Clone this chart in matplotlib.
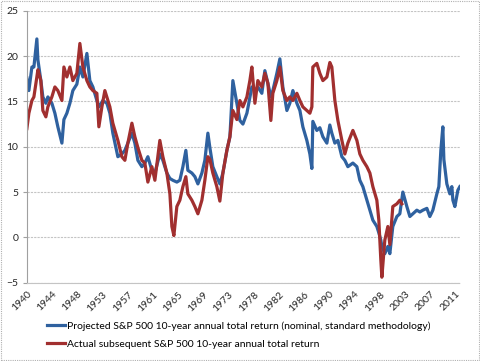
import numpy as np
import matplotlib
matplotlib.use("Agg")
import matplotlib.pyplot as plt
from matplotlib.patches import Rectangle

# projected 10-year return (blue)
proj_years = [1940.50, 1940.83, 1941.33, 1941.66, 1942.15, 1942.32, 1942.81, 1943.14, 1943.64, 1943.97,
              1944.63, 1945.13, 1945.62, 1946.29, 1946.62, 1947.11, 1947.61, 1948.10, 1948.76, 1949.26,
              1949.76, 1950.42, 1950.91, 1951.41, 1952.07, 1952.40, 1953.06, 1953.72, 1954.22, 1954.71,
              1955.54, 1956.20, 1956.70, 1957.19, 1957.86, 1958.35, 1958.85, 1959.51, 1960.00, 1960.50,
              1961.16, 1961.66, 1962.48, 1962.98, 1963.64, 1964.14, 1964.63, 1965.29, 1965.79, 1966.29,
              1966.78, 1967.11, 1967.77, 1968.27, 1968.77, 1969.43, 1969.92, 1970.42, 1970.75, 1971.24,
              1971.90, 1972.40, 1972.90, 1973.56, 1974.06, 1974.55, 1975.21, 1975.71, 1976.21, 1976.87,
              1977.69, 1978.19, 1978.68, 1979.34, 1979.84, 1980.34, 1980.83, 1981.16, 1981.82, 1982.32,
              1982.81, 1983.48, 1983.97, 1984.47, 1985.13, 1985.63, 1986.12, 1986.78, 1987.28, 1987.61,
              1987.77, 1988.43, 1988.93, 1989.43, 1990.09, 1990.58, 1990.91, 1991.41, 1991.91, 1992.57,
              1993.06, 1993.56, 1994.39, 1995.05, 1995.54, 1996.04, 1996.70, 1997.20, 1997.69, 1998.35,
              1998.68, 1999.01, 1999.18, 1999.67, 2000.17, 2000.50, 2000.99, 2001.66, 2002.15, 2002.65,
              2003.31, 2003.81, 2004.30, 2004.96, 2005.46, 2005.96, 2006.62, 2007.11, 2007.61, 2008.27,
              2008.60, 2008.93, 2009.26, 2009.43, 2009.92, 2010.42, 2010.75, 2010.92, 2011.25, 2011.74,
              2012.07]
proj_values = [17.6, 16.2, 18.8, 18.8, 21.9, 19.6, 17.3, 15.5, 14.8, 15.5,
               14.8, 13.7, 12.2, 10.4, 13.0, 13.7, 14.8, 16.2, 16.9, 18.8,
               17.7, 20.3, 17.3, 16.6, 15.1, 14.4, 15.1, 14.8, 13.7, 11.5,
               8.9, 9.2, 9.6, 10.4, 11.5, 10.4, 8.5, 7.8, 8.2, 8.9,
               7.4, 7.1, 9.2, 8.5, 7.1, 6.5, 6.3, 6.1, 6.3, 7.8,
               9.6, 7.4, 7.1, 6.7, 5.9, 7.1, 8.5, 11.5, 9.9, 7.8,
               6.7, 5.9, 7.1, 9.6, 11.1, 17.3, 14.8, 12.9, 12.5, 13.7,
               16.6, 16.2, 16.6, 15.9, 18.4, 17.0, 15.5, 16.2, 18.1, 19.7,
               16.6, 14.0, 14.8, 16.2, 14.8, 14.0, 12.2, 10.7, 9.2, 7.6,
               12.8, 11.8, 12.1, 11.1, 10.4, 12.4, 11.5, 10.4, 10.7, 8.9,
               8.5, 7.8, 8.2, 7.8, 6.3, 5.6, 4.1, 3.0, 1.9, 1.2,
               0.5, -0.3, -1.0, -1.8, -1.0, -1.8, 1.2, 2.3, 2.6, 5.0,
               3.4, 2.3, 2.6, 3.0, 2.8, 3.0, 3.2, 2.3, 3.0, 4.8,
               5.6, 9.6, 12.2, 8.6, 5.9, 4.8, 5.6, 4.1, 3.4, 5.2,
               5.6]

# actual subsequent 10-year return (red)
act_years = [1940.50, 1940.83, 1941.33, 1941.66, 1942.15, 1942.32, 1942.81, 1943.14, 1943.64, 1943.97,
             1944.63, 1945.13, 1945.62, 1946.29, 1946.62, 1947.11, 1947.61, 1948.10, 1948.76, 1949.26,
             1949.76, 1950.42, 1950.91, 1951.41, 1952.07, 1952.40, 1952.90, 1953.39, 1954.22, 1954.71,
             1955.54, 1956.20, 1956.70, 1957.19, 1957.86, 1958.35, 1958.85, 1959.51, 1960.00, 1960.50,
             1961.16, 1961.66, 1962.48, 1962.98, 1963.64, 1964.14, 1964.47, 1964.80, 1965.29, 1965.79,
             1966.29, 1966.78, 1967.11, 1967.77, 1968.27, 1968.77, 1969.43, 1969.92, 1970.42, 1970.75,
             1971.24, 1971.90, 1972.40, 1972.90, 1973.56, 1974.06, 1974.55, 1975.21, 1975.71, 1976.21,
             1976.87, 1977.36, 1977.69, 1978.19, 1978.68, 1979.34, 1979.84, 1980.34, 1980.83, 1981.16,
             1981.82, 1982.32, 1982.81, 1983.48, 1983.97, 1984.47, 1985.13, 1985.63, 1986.12, 1986.78,
             1987.28, 1987.61, 1987.77, 1988.43, 1988.93, 1989.43, 1990.09, 1990.58, 1990.91, 1991.41,
             1991.91, 1992.57, 1993.06, 1993.56, 1994.39, 1995.05, 1995.54, 1996.04, 1996.70, 1997.20,
             1997.69, 1998.35, 1998.68, 1999.01, 1999.18, 1999.67, 2000.17, 2000.50, 2000.99, 2001.66,
             2002.15, 2002.48]
act_values = [12.0, 13.7, 15.1, 15.5, 17.7, 18.5, 17.3, 14.0, 13.3, 14.4,
              15.5, 16.6, 16.2, 15.1, 18.8, 17.7, 18.8, 17.3, 18.1, 21.4,
              18.8, 17.3, 16.6, 16.2, 15.9, 12.2, 14.4, 16.2, 14.4, 12.6,
              10.7, 8.9, 8.5, 10.4, 12.6, 11.1, 9.9, 8.5, 8.2, 6.1,
              7.8, 6.3, 10.7, 8.9, 7.1, 4.8, 1.2, 0.2, 3.4, 4.1,
              5.6, 6.7, 4.8, 4.1, 3.4, 2.6, 4.1, 6.3, 8.9, 8.6,
              7.1, 5.6, 4.0, 7.1, 9.6, 11.1, 14.0, 13.0, 15.1, 14.4,
              15.5, 17.3, 18.8, 14.8, 17.3, 16.6, 18.1, 17.0, 12.9, 15.9,
              17.3, 18.8, 16.2, 15.1, 15.5, 15.1, 15.9, 15.1, 14.4, 14.0,
              13.7, 14.4, 18.8, 19.2, 18.1, 17.3, 17.7, 19.3, 18.8, 15.1,
              12.9, 10.7, 9.2, 10.4, 11.8, 10.7, 9.2, 8.5, 7.8, 7.1,
              5.6, 4.1, 1.9, -2.5, -4.4, -0.3, 1.2, -0.8, 3.4, 3.7,
              4.1, 3.7]

tick_labels = ['1940', '1944', '1948', '1953', '1957', '1961', '1965', '1969', '1973',
               '1978', '1982', '1986', '1990', '1994', '1998', '2003', '2007', '2011']

blue = '#2f619f'
red = '#a12f2f'

plt.rcParams['font.family'] = ['Lato', 'DejaVu Sans']

fig = plt.figure(figsize=(4.8, 3.61), dpi=100)
ax = fig.add_axes([0.056, 0.217, 0.902, 0.753])

ax.plot(proj_years, proj_values, color=blue, lw=2.3,
        label='Projected S&P 500 10-year annual total return (nominal, standard methodology)')
ax.plot(act_years, act_values, color=red, lw=2.3,
        label='Actual subsequent S&P 500 10-year annual total return')

ax.set_ylim(-5, 25)
ax.set_yticks(range(-5, 26, 5))
ax.set_xlim(1940.5, 2012.07)
# category axis in the original: a label every 50 months
ax.set_xticks([1940.5 + k * 50 / 12 for k in range(len(tick_labels))])
ax.set_xticklabels(tick_labels)
plt.setp(ax.get_xticklabels(), rotation=45, ha='right', rotation_mode='anchor')

ax.grid(axis='y', color='#c4c4c4', lw=0.8, linestyle=(0, (2, 1)))
for s in ['top', 'right']:
    ax.spines[s].set_visible(False)
ax.spines['left'].set_color('#a0a0a0')
ax.spines['bottom'].set_color('#c4c4c4')
ax.spines['bottom'].set_linestyle((0, (2, 1)))
ax.tick_params(axis='y', length=3, color='#a0a0a0', labelsize=7.5, labelcolor='#262626', pad=3)
ax.tick_params(axis='x', length=0, labelsize=7.5, labelcolor='#262626', pad=5)

fig.legend(loc='upper left', bbox_to_anchor=(0.097, 0.11), frameon=False, fontsize=7.5,
           handlelength=1.8, handletextpad=0.2, labelspacing=0.85, borderpad=0, borderaxespad=0)

fig.patches.append(Rectangle((0.002, 0.002), 0.996, 0.996, transform=fig.transFigure,
                             fill=False, edgecolor='#b0b0b0', lw=0.8, linestyle=(0, (1, 1))))

fig.savefig('out.png', dpi=100)
